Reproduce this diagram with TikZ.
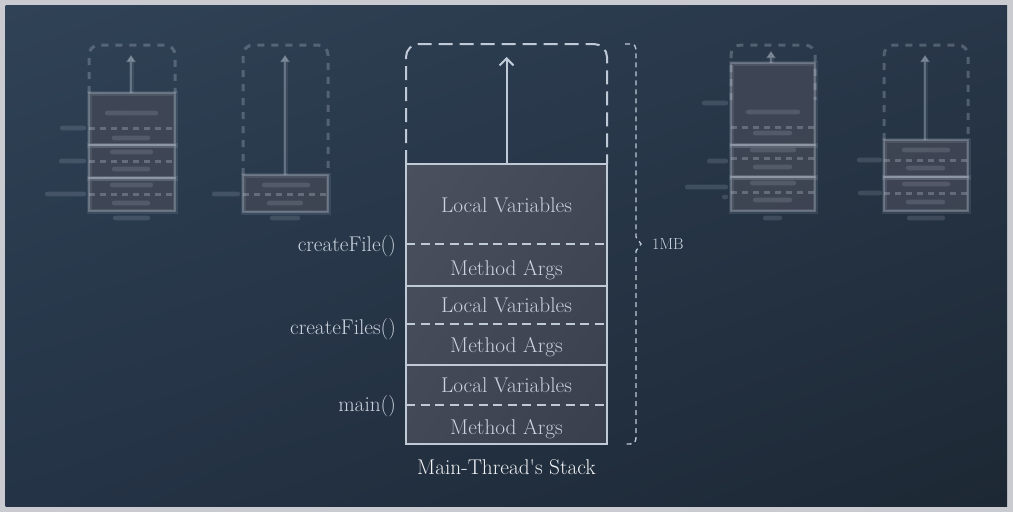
\documentclass[tikz,border=0pt]{standalone}
\usepackage{fontspec}
\usetikzlibrary{arrows.meta,shadings}
\definecolor{bordergray}{HTML}{C9CBD0}
\definecolor{bgUL}{HTML}{304256}
\definecolor{bgUR}{HTML}{283749}
\definecolor{bgLL}{HTML}{243346}
\definecolor{bgLR}{HTML}{1D2834}
\definecolor{boxUL}{HTML}{4B505E}
\definecolor{boxM}{HTML}{434856}
\definecolor{boxLR}{HTML}{3A3F4D}
\definecolor{ln}{HTML}{C0CAD7}
\definecolor{txt}{HTML}{CBD3DE}
\definecolor{captxt}{HTML}{F2F3F5}
\newcommand\ghostbar[3]{\fill[gtext] (#1,#3-2.3) rectangle (#2,#3+2.3);}
\begin{document}
\begin{tikzpicture}[x=1pt,y=-1pt,
  lbl/.style={text=txt, font=\fontsize{21.3}{24}\selectfont, inner sep=0pt, anchor=base},
  frame/.style={draw=ln, line width=2pt, minimum width=201pt, inner sep=0pt},
  sepline/.style={draw=ln, line width=2pt, dash pattern=on 9pt off 5.5pt},
  topdash/.style={draw=ln, line width=2pt, dash pattern=on 14pt off 7pt, rounded corners=13pt},
  arr/.style={draw=ln, line width=2pt, -{Straight Barb[length=7pt,width=14pt,line width=2pt]}},
  bracestyle/.style={draw=ln, line width=1.3pt, dash pattern=on 5pt off 4pt},
  gfill/.style={fill=boxM, opacity=0.8},
  gline/.style={draw=ln, line width=2pt, opacity=0.3, preaction={draw=ln, line width=5pt, opacity=0.12}},
  gdash/.style={draw=ln, line width=3pt, opacity=0.3, dash pattern=on 6pt off 5pt},
  gtop/.style={draw=ln, line width=3pt, opacity=0.28, dash pattern=on 7pt off 7pt, rounded corners=10pt},
  garr/.style={draw=ln, line width=2.5pt, opacity=0.32, preaction={draw=ln, line width=5pt, opacity=0.1}, -{Triangle[length=7pt,width=9pt]}},
  gtext/.style={fill=ln, opacity=0.17, rounded corners=2pt}
]
\useasboundingbox (0,0) rectangle (1013,512);
% border and background
\fill[bordergray] (0,0) rectangle (1013,512);
\shade[upper left=bgUL, upper right=bgUR, lower left=bgLL, lower right=bgLR] (5.5,5) rectangle (1007,506);

% ---------- ghost stack 1 ----------
\fill[gfill] (89,93) rectangle (175,211);
\draw[gtop] (89,93) -- (89,45) -- (175,45) -- (175,93);
\draw[garr] (131,93) -- (131,55);
\draw[gline] (89,93) rectangle (175,145);
\draw[gline] (89,145) rectangle (175,178);
\draw[gline] (89,178) rectangle (175,211);
\draw[gdash] (89,128) -- (175,128);
\draw[gdash] (89,161) -- (175,161);
\draw[gdash] (89,194) -- (175,194);
\ghostbar{105}{158}{113}\ghostbar{112}{150}{138}
\ghostbar{110}{153}{152}\ghostbar{112}{150}{169}
\ghostbar{110}{153}{185}\ghostbar{112}{150}{203}
\ghostbar{60}{86}{128}\ghostbar{59}{86}{161}\ghostbar{45}{86}{194}
\ghostbar{113}{150}{218}

% ---------- ghost stack 2 ----------
\fill[gfill] (243,175) rectangle (328,212);
\draw[gtop] (243,175) -- (243,45) -- (328,45) -- (328,175);
\draw[garr] (285,175) -- (285,55);
\draw[gline] (243,175) rectangle (328,212);
\draw[gdash] (243,194) -- (328,194);
\ghostbar{262}{310}{185}\ghostbar{267}{303}{203}
\ghostbar{212}{240}{194}
\ghostbar{270}{300}{218}

% ---------- ghost stack 3 ----------
\fill[gfill] (731,63) rectangle (815,211);
\draw[gtop] (731,100) -- (731,45) -- (815,45) -- (815,100);
\draw[garr] (771,63) -- (771,51);
\draw[gline] (731,63) rectangle (815,145);
\draw[gline] (731,145) rectangle (815,177);
\draw[gline] (731,177) rectangle (815,211);
\draw[gdash] (731,127) -- (815,127);
\draw[gdash] (731,158) -- (815,158);
\draw[gdash] (731,192) -- (815,192);
\ghostbar{746}{800}{112}\ghostbar{753}{792}{133}
\ghostbar{750}{796}{150}\ghostbar{753}{792}{167}
\ghostbar{750}{796}{183}\ghostbar{753}{792}{200}
\ghostbar{702}{728}{103}\ghostbar{707}{728}{161}\ghostbar{685}{728}{187}\ghostbar{722}{728}{197}
\ghostbar{763}{782}{218}

% ---------- ghost stack 4 ----------
\fill[gfill] (884,140) rectangle (968,211);
\draw[gtop] (884,140) -- (884,45) -- (968,45) -- (968,140);
\draw[garr] (925,140) -- (925,55);
\draw[gline] (884,140) rectangle (968,177);
\draw[gline] (884,177) rectangle (968,211);
\draw[gdash] (884,160) -- (968,160);
\draw[gdash] (884,193) -- (968,193);
\ghostbar{902}{950}{150}\ghostbar{906}{945}{168}
\ghostbar{902}{950}{184}\ghostbar{906}{945}{202}
\ghostbar{857}{882}{160}\ghostbar{858}{882}{193}
\ghostbar{907}{945}{218}

% ---------- main stack ----------
\shade[upper left=boxUL, upper right=boxM, lower left=boxM, lower right=boxLR] (406,164) rectangle (607,444);
\draw[topdash] (406,164) -- (406,44) -- (607,44) -- (607,164);
\node[frame, minimum height=122pt] (f1) at (506.5,225) {};
\node[frame, minimum height=79pt] (f2) at (506.5,325.5) {};
\node[frame, minimum height=79pt] (f3) at (506.5,404.5) {};
\draw[sepline] (406,244) -- (607,244);
\draw[sepline] (406,324) -- (607,324);
\draw[sepline] (406,405) -- (607,405);
\coordinate (tip) at (506.5,57);
\draw[arr] (f1.north) -- (tip);

\node[lbl] (lv1) at (506.5,212) {Local Variables};
\node[lbl] (ma1) at (506.5,275) {Method Args};
\node[lbl] (lv2) at (506.5,312) {Local Variables};
\node[lbl] (ma2) at (506.5,352) {Method Args};
\node[lbl] (lv3) at (506.5,392) {Local Variables};
\node[lbl] (ma3) at (506.5,434) {Method Args};

\node[lbl, anchor=base east] (cf) at (396,251) {createFile()};
\node[lbl, anchor=base east] (cfs) at (396,334) {createFiles()};
\node[lbl, anchor=base east] (mn) at (396,411) {main()};

% brace
\draw[bracestyle] (625,44) .. controls (636,44) .. (636,55) -- (636,237) -- (641,244) -- (636,251) -- (636,433) .. controls (636,444) .. (625,444);
\node[lbl, anchor=base west, font=\fontsize{16}{18}\selectfont] (mb) at (652,249.5) {1MB};

\node[lbl, text=captxt] (cap) at (506.5,474) {Main-Thread\textquotesingle s Stack};
\end{tikzpicture}
\end{document}
